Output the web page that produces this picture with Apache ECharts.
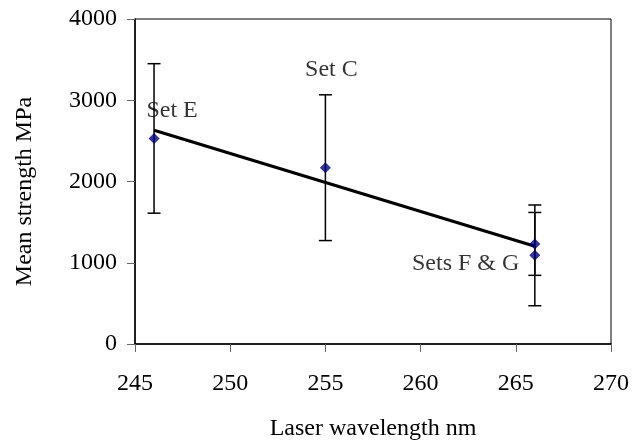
<!DOCTYPE html>
<html>
<head>
<meta charset="utf-8">
<script src="https://cdn.jsdelivr.net/npm/echarts@6/dist/echarts.min.js"></script>
<style>
  html, body { margin: 0; padding: 0; background: #fff; }
  #chart { width: 632px; height: 446px; }
</style>
</head>
<body>
<div id="chart"></div>
<script>
// Laser wavelength (nm) for each sample set
const wavelengths = [246, 255, 266, 266];
// Mean strength (MPa) and error bar half-widths
const meanStrength = [2530, 2170, 1232, 1091];
const strengthError = [920, 897, 387, 620];
// Set names shown beside the points
const setNames = ['Set E', 'Set C', 'Sets F & G', ''];

const xTicks = { min: 245, max: 270, interval: 5 };
const yTicks = { min: 0, max: 4000, interval: 1000 };

const FONT = 'Liberation Serif';
const FONT_SIZE = 24;

// Least-squares trend line through the set means
function linearFit(xs, ys) {
  const n = xs.length;
  const mx = xs.reduce((a, b) => a + b, 0) / n;
  const my = ys.reduce((a, b) => a + b, 0) / n;
  let sxy = 0, sxx = 0;
  for (let i = 0; i < n; i++) {
    sxy += (xs[i] - mx) * (ys[i] - my);
    sxx += (xs[i] - mx) * (xs[i] - mx);
  }
  const slope = sxy / sxx;
  return x => my + slope * (x - mx);
}
const fit = linearFit(wavelengths, meanStrength);
const xLo = Math.min(...wavelengths), xHi = Math.max(...wavelengths);
const trendData = [[xLo, fit(xLo)], [xHi, fit(xHi)]];

const errorData = wavelengths.map((x, i) => [x, meanStrength[i] - strengthError[i], meanStrength[i] + strengthError[i]]);

// Where each set name sits relative to its point
const labelPlacement = [
  { position: 'top', offset: [18, -5] },
  { position: 'top', offset: [6, -75] },
  { position: 'left', offset: [-5, 20] },
  { show: false }
];

const pointData = wavelengths.map((x, i) => ({
  value: [x, meanStrength[i]],
  label: Object.assign({ show: setNames[i] !== '', formatter: setNames[i] }, labelPlacement[i])
}));

const chart = echarts.init(document.getElementById('chart'), null, { renderer: 'canvas' });
chart.setOption({
  animation: false,
  backgroundColor: '#ffffff',
  textStyle: { fontFamily: FONT },
  grid: { left: 135, top: 19, width: 477, height: 330, show: true, borderColor: '#000', borderWidth: 1, backgroundColor: 'transparent' },
  xAxis: {
    type: 'value',
    min: xTicks.min, max: xTicks.max, interval: xTicks.interval,
    name: 'Laser wavelength nm',
    nameLocation: 'middle', nameGap: 73,
    nameTextStyle: { fontFamily: FONT, fontSize: FONT_SIZE, color: '#000' },
    axisLine: { show: true, lineStyle: { color: '#000', width: 1.5 } },
    axisTick: { show: true, length: 8, lineStyle: { color: '#666' } },
    axisLabel: { fontFamily: FONT, fontSize: FONT_SIZE, color: '#000', margin: 28 },
    splitLine: { show: false }
  },
  yAxis: {
    type: 'value',
    min: yTicks.min, max: yTicks.max, interval: yTicks.interval,
    name: 'Mean strength MPa',
    nameLocation: 'middle', nameGap: 98,
    nameTextStyle: { fontFamily: FONT, fontSize: FONT_SIZE, color: '#000', padding: [0, 20, 0, 0] },
    axisLine: { show: true, lineStyle: { color: '#000', width: 1.5 } },
    axisTick: { show: true, length: 8, lineStyle: { color: '#666' } },
    axisLabel: { fontFamily: FONT, fontSize: FONT_SIZE, color: '#000', margin: 18, formatter: v => String(v) },
    splitLine: { show: false }
  },
  series: [
    {
      type: 'custom',
      z: 2,
      data: errorData,
      renderItem: function (params, api) {
        const x = api.value(0);
        const lo = api.coord([x, api.value(1)]);
        const hi = api.coord([x, api.value(2)]);
        const cap = 6.5;
        const style = { stroke: '#000', lineWidth: 1.5 };
        return {
          type: 'group',
          children: [
            { type: 'line', shape: { x1: lo[0], y1: lo[1], x2: hi[0], y2: hi[1] }, style: style },
            { type: 'line', shape: { x1: lo[0] - cap, y1: lo[1], x2: lo[0] + cap, y2: lo[1] }, style: style },
            { type: 'line', shape: { x1: hi[0] - cap, y1: hi[1], x2: hi[0] + cap, y2: hi[1] }, style: style }
          ]
        };
      }
    },
    {
      type: 'line',
      z: 3,
      data: trendData,
      symbol: 'none',
      lineStyle: { color: '#000', width: 3 }
    },
    {
      type: 'scatter',
      z: 4,
      data: pointData,
      symbol: 'diamond',
      symbolSize: 11,
      itemStyle: { color: '#000080' },
      label: { fontFamily: FONT, fontSize: FONT_SIZE, color: '#000' }
    }
  ]
});
</script>
</body>
</html>
